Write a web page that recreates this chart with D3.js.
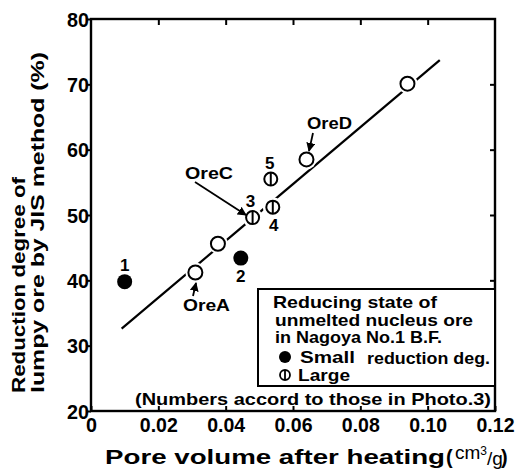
<!DOCTYPE html>
<html>
  <head>
    <meta charset="utf-8">
    <script src="https://d3js.org/d3.v7.min.js"></script>
    <style>
      body { margin: 0px; background: #fff; }
      text { font-family: 'Liberation Sans', Arial, sans-serif; font-weight: bold; fill: #000; }
      .tick text { font-size: 20px; font-weight: bold; }
      .lab { font-size: 17px; }
    </style>
  </head>
  <body>
    <script>
      // values
      const xTicks = [0, 0.02, 0.04, 0.06, 0.08, 0.10, 0.12];
      const xTickLabels = ['0', '0.02', '0.04', '0.06', '0.08', '0.10', '0.12'];
      const yTicks = [20, 30, 40, 50, 60, 70, 80];
      const smallPts = [[0.010, 39.8, '1'], [0.0445, 43.4, '2']];
      const openPts = [[0.031, 41.2], [0.0377, 45.6], [0.064, 58.5], [0.094, 70.1]];
      const largePts = [[0.048, 49.6, '3'], [0.054, 51.2, '4'], [0.0534, 55.5, '5']];
      const fitLine = [[0.0091, 32.6], [0.1036, 73.7]];
      const onLine = [[0.031, 41.2], [0.0377, 45.6], [0.064, 58.5], [0.094, 70.1], [0.048, 49.6], [0.054, 51.2]];

      const margin = { left: 91, right: 23, top: 19, bottom: 61 };
      const width = 518, height = 472;
      const innerWidth = width - margin.left - margin.right;
      const innerHeight = height - margin.top - margin.bottom;

      const svg = d3.select('body').append('svg')
        .attr('width', width)
        .attr('height', height);
      const g = svg.append('g')
        .attr('transform', `translate(${margin.left},${margin.top})`);

      const xScale = d3.scaleLinear().domain([0, 0.12]).range([0, innerWidth]);
      const yScale = d3.scaleLinear().domain([20, 80]).range([innerHeight, 0]);

      // condensed look of the scanned digits
      const digitLen = s => s.replace(/\./g, '').length * 11 + (s.split('.').length - 1) * 5;

      // axes: ticks inward on top/right/bottom, outward on left
      const xAxisG = g.append('g').attr('transform', `translate(0,${innerHeight})`)
        .call(d3.axisBottom(xScale).tickValues(xTicks).tickFormat((d, i) => xTickLabels[i])
          .tickSizeInner(-5).tickSizeOuter(0).tickPadding(9));
      const yAxisG = g.append('g')
        .call(d3.axisLeft(yScale).tickValues(yTicks).tickFormat(d3.format('d'))
          .tickSizeInner(4).tickSizeOuter(0).tickPadding(-2));
      g.append('g')
        .call(d3.axisTop(xScale).tickValues(xTicks.slice(1, -1)).tickFormat('')
          .tickSizeInner(-6).tickSizeOuter(0));
      g.append('g').attr('transform', `translate(${innerWidth},0)`)
        .call(d3.axisRight(yScale).tickValues(yTicks.slice(1, -1)).tickFormat('')
          .tickSizeInner(-5).tickSizeOuter(0));
      g.selectAll('.domain').remove();
      g.selectAll('.tick line').attr('stroke', '#000').attr('stroke-width', 2);
      xAxisG.selectAll('.tick text').attr('dy', '0.6em')
        .attr('textLength', function() { return digitLen(this.textContent); })
        .attr('lengthAdjust', 'spacingAndGlyphs');
      yAxisG.selectAll('.tick text').attr('dy', '0.36em')
        .attr('textLength', function() { return digitLen(this.textContent); })
        .attr('lengthAdjust', 'spacingAndGlyphs');

      g.append('rect')
        .attr('width', innerWidth).attr('height', innerHeight)
        .attr('fill', 'none').attr('stroke', '#000').attr('stroke-width', 2.4);

      // fitted line
      g.append('path')
        .datum(fitLine)
        .attr('d', d3.line().x(d => xScale(d[0])).y(d => yScale(d[1])))
        .attr('stroke', '#000').attr('stroke-width', 2.2).attr('fill', 'none');

      // gaps in the line round the markers
      g.selectAll('.halo').data(onLine).enter().append('circle')
        .attr('cx', d => xScale(d[0])).attr('cy', d => yScale(d[1]))
        .attr('r', 10).attr('fill', '#fff');

      g.selectAll('.open').data(openPts).enter().append('circle')
        .attr('cx', d => xScale(d[0])).attr('cy', d => yScale(d[1]))
        .attr('r', 7).attr('fill', '#fff').attr('stroke', '#000').attr('stroke-width', 2);

      const large = g.selectAll('.large').data(largePts).enter().append('g')
        .attr('transform', d => `translate(${xScale(d[0])},${yScale(d[1])})`);
      large.append('circle').attr('r', 6.5).attr('fill', '#fff').attr('stroke', '#000').attr('stroke-width', 2);
      large.append('line').attr('y1', -6.5).attr('y2', 6.5).attr('stroke', '#000').attr('stroke-width', 2);

      g.selectAll('.small').data(smallPts).enter().append('circle')
        .attr('cx', d => xScale(d[0])).attr('cy', d => yScale(d[1]))
        .attr('r', 7.5).attr('fill', '#000');

      // point numbers
      const numOffset = { '1': [0, -17], '2': [0, 18], '3': [-2, -17], '4': [1, 18], '5': [-1, -16] };
      g.selectAll('.num').data(smallPts.concat(largePts)).enter().append('text')
        .attr('class', 'lab')
        .attr('x', d => xScale(d[0]) + numOffset[d[2]][0])
        .attr('y', d => yScale(d[1]) + numOffset[d[2]][1])
        .attr('dy', '0.35em').attr('text-anchor', 'middle')
        .text(d => d[2]);

      // ore annotations with arrows
      svg.append('defs').append('marker')
        .attr('id', 'arr').attr('viewBox', '0 0 10 10').attr('refX', 9).attr('refY', 5)
        .attr('markerWidth', 5).attr('markerHeight', 5).attr('orient', 'auto')
        .append('path').attr('d', 'M0,0L10,5L0,10z').attr('fill', '#000');

      const notes = [
        { t: 'OreA', x: 183, w: 47, y: 305, a: [193, 296, 196, 283] },
        { t: 'OreC', x: 185, w: 48, y: 173, a: [195, 182, 246, 215] },
        { t: 'OreD', x: 307, w: 45, y: 123, a: [313, 133, 309, 151] }
      ];
      notes.forEach(n => {
        svg.append('text').attr('class', 'lab').attr('x', n.x).attr('y', n.y)
          .attr('dy', '0.35em').attr('textLength', n.w).attr('lengthAdjust', 'spacingAndGlyphs')
          .text(n.t);
        svg.append('line').attr('x1', n.a[0]).attr('y1', n.a[1]).attr('x2', n.a[2]).attr('y2', n.a[3])
          .attr('stroke', '#000').attr('stroke-width', 1.8).attr('marker-end', 'url(#arr)');
      });

      // legend box
      svg.append('rect').attr('x', 258).attr('y', 289).attr('width', 237).attr('height', 97)
        .attr('fill', '#fff').attr('stroke', '#000').attr('stroke-width', 2);
      const legLines = [
        ['Reducing state of', 273, 302, 164],
        ['unmelted nucleus ore', 275, 320, 198],
        ['in Nagoya No.1 B.F.', 275, 337, 167],
        ['Small', 300, 357, 55],
        ['reduction deg.', 367, 358, 123],
        ['Large', 298, 375, 52]
      ];
      svg.selectAll('.leg').data(legLines).enter().append('text')
        .attr('class', 'lab').attr('x', d => d[1]).attr('y', d => d[2]).attr('dy', '0.35em')
        .attr('textLength', d => d[3]).attr('lengthAdjust', 'spacingAndGlyphs')
        .text(d => d[0]);
      svg.append('circle').attr('cx', 285).attr('cy', 357).attr('r', 6).attr('fill', '#000');
      svg.append('circle').attr('cx', 285).attr('cy', 375).attr('r', 5).attr('fill', '#fff')
        .attr('stroke', '#000').attr('stroke-width', 1.8);
      svg.append('line').attr('x1', 285).attr('x2', 285).attr('y1', 370).attr('y2', 380)
        .attr('stroke', '#000').attr('stroke-width', 1.8);
      svg.append('text').attr('class', 'lab').attr('x', 135).attr('y', 399).attr('dy', '0.35em')
        .attr('textLength', 356).attr('lengthAdjust', 'spacingAndGlyphs')
        .text('(Numbers accord to those in Photo.3)');

      // axis titles
      svg.append('text').attr('x', 105).attr('y', 457).attr('dy', '0.35em')
        .style('font-size', '20px').attr('textLength', 340).attr('lengthAdjust', 'spacingAndGlyphs')
        .text('Pore volume  after heating');
      svg.append('text').attr('x', 446).attr('y', 457).attr('dy', '0.35em').style('font-size', '20px').text('(');
      const unit = svg.append('text').attr('x', 455).attr('y', 452).attr('dy', '0.35em')
        .style('font-size', '19px').style('font-weight', 'normal');
      unit.append('tspan').text('cm');
      unit.append('tspan').style('font-size', '12px').attr('dy', '-0.3em').text('3');
      unit.append('tspan').attr('dy', '0.5em').text('/g');
      svg.append('text').attr('x', 501).attr('y', 457).attr('dy', '0.35em').style('font-size', '20px').text(')');

      svg.append('text').attr('transform', 'translate(25,393) rotate(-90)')
        .style('font-size', '19px').attr('textLength', 216).attr('lengthAdjust', 'spacingAndGlyphs')
        .text('Reduction degree of');
      svg.append('text').attr('transform', 'translate(44,393) rotate(-90)')
        .style('font-size', '19px').attr('textLength', 341).attr('lengthAdjust', 'spacingAndGlyphs')
        .text('lumpy ore by JIS method  (%)');
    </script>
  </body>
</html>
